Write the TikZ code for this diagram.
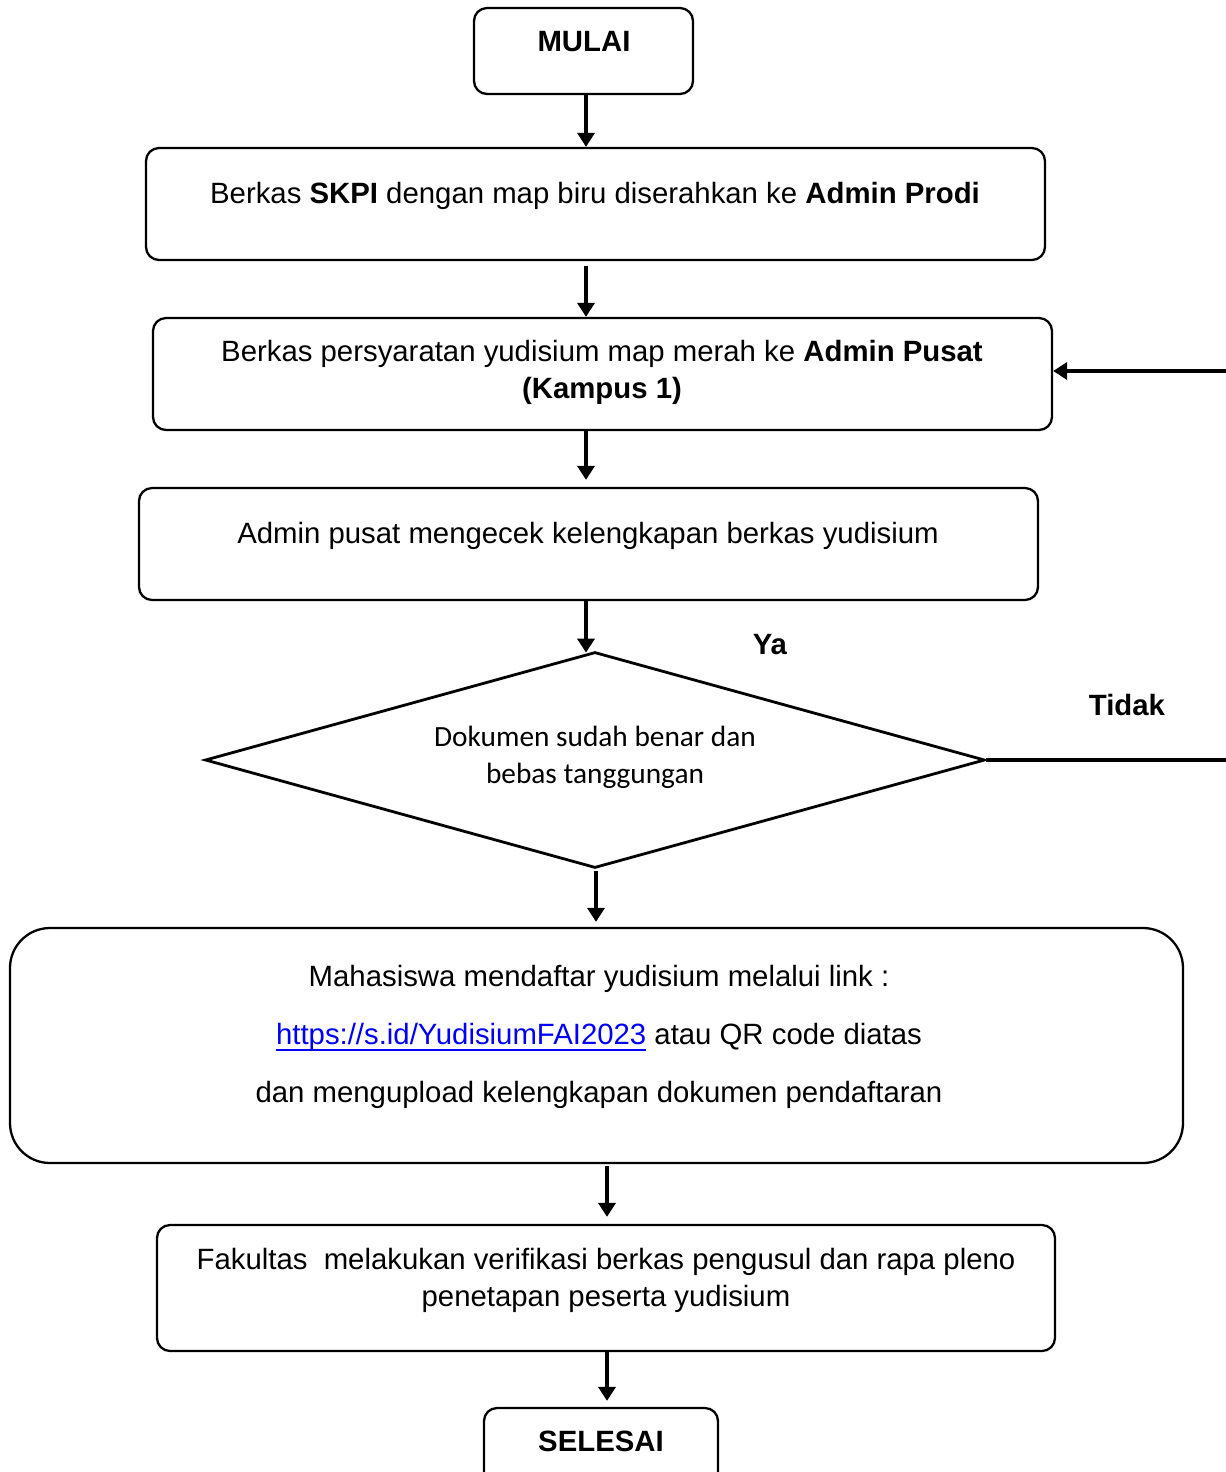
\documentclass[tikz,border=0pt]{standalone}
\usepackage{fontspec}
\setmainfont{Liberation Sans}
\newfontfamily\calib{Carlito}
\usetikzlibrary{shapes.geometric,arrows.meta,fit}
\definecolor{linkblue}{RGB}{0,0,255}
\newcommand\myuline[1]{\setbox0\hbox{#1}\rlap{\vrule height -2.4pt depth 3.5pt width \wd0}\box0}
\begin{document}
\begin{tikzpicture}[x=0.02cm,y=-0.02cm,
  box/.style={draw, line width=1.3pt, rounded corners=0.26cm, inner sep=0pt},
  bigbox/.style={box, rounded corners=0.8cm},
  dia/.style={draw, diamond, line width=1.6pt, inner sep=0pt, minimum width=15.6cm, minimum height=4.32cm},
  txt/.style={font=\fontsize{16.7}{21}\selectfont, align=center, inner sep=0pt},
  ctxt/.style={font=\calib\fontsize{16.7}{21}\selectfont, align=center, inner sep=0pt},
  arr/.style={line width=2pt, -{Triangle[length=0.28cm,width=0.34cm]}}
]
\useasboundingbox (0,0) rectangle (1225,1472);

% boxes
\node[box, fit={(474,8) (693,94)}] (b1) {};
\node[box, fit={(146,148) (1045,260)}] (b2) {};
\node[box, fit={(153,318) (1052,430)}] (b3) {};
\node[box, fit={(139,488) (1038,600)}] (b4) {};
\node[dia] (d) at (595,760) {};
\node[bigbox, fit={(10,928) (1183,1163)}] (b6) {};
\node[box, fit={(157,1225) (1055,1351)}] (b7) {};
\node[box, fit={(484,1408) (718,1520)}] (b8) {};

% texts
\node[txt] (t1) at (584,42) {\textbf{MULAI}};
\node[txt] (t2) at (595,196) {Berkas \textbf{SKPI} dengan map biru diserahkan ke \textbf{Admin Prodi}};
\node[txt] (t3) at (602,372) {Berkas persyaratan yudisium map merah ke \textbf{Admin Pusat}\\\textbf{(Kampus 1)}};
\node[txt] (t4) at (588,536) {Admin pusat mengecek kelengkapan berkas yudisium};
\node[ctxt] (td) at (595,757) {Dokumen sudah benar dan\\bebas tanggungan};
\node[txt] (ya) at (770,645) {\textbf{Ya}};
\node[txt] (tidak) at (1127,705) {\textbf{Tidak}};
\node[txt, font=\fontsize{16.7}{33}\selectfont] (t6) at (599,1037) {Mahasiswa mendaftar yudisium melalui link :\\
  {\color{linkblue}\myuline{https://s.id/YudisiumFAI2023}} atau QR code diatas\\
  dan mengupload kelengkapan dokumen pendaftaran};
\node[txt] (t7) at (606,1280) {Fakultas\ \ melakukan verifikasi berkas pengusul dan rapa pleno\\penetapan peserta yudisium};
\node[txt] (t8) at (601,1441) {\textbf{SELESAI}};

% connectors
\coordinate (xa) at (586,0);
\coordinate (xb) at (596,0);
\coordinate (xc) at (607,0);
\draw[arr] (b1.south -| xa) -- (b2.north -| xa);
\draw[arr] ([yshift=-0.1cm]b2.south -| xa) -- (b3.north -| xa);
\draw[arr] (b3.south -| xa) -- ([yshift=0.14cm]b4.north -| xa);
\draw[arr] (b4.south -| xa) -- ([yshift=-0.04cm]d.north -| xa);
\draw[arr] ([yshift=-0.04cm]d.south -| xb) -- ([yshift=0.1cm]b6.north -| xb);
\draw[arr] ([yshift=-0.04cm]b6.south -| xc) -- ([yshift=0.14cm]b7.north -| xc);
\draw[arr] (b7.south -| xc) -- ([yshift=0.12cm]b8.north -| xc);
\draw[arr] (d.east) -- ++(260,0) |- ([yshift=0.06cm]b3.east);
\end{tikzpicture}
\end{document}
